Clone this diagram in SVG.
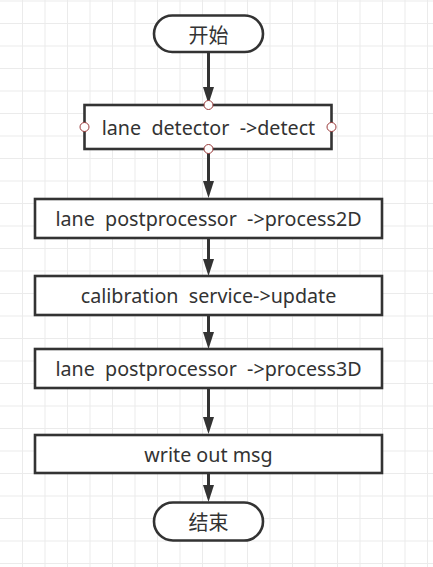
<svg xmlns="http://www.w3.org/2000/svg" width="433" height="567" viewBox="0 0 433 567">
<style>
.grid{stroke:#ebebeb;stroke-width:1;fill:none}
.box{fill:#ffffff;stroke:#333333;stroke-width:2.6}
.lbl{font-family:"Noto Sans","Noto Sans CJK SC",sans-serif;font-size:19.7px;fill:#333333;text-anchor:middle;dominant-baseline:central;white-space:pre}
.cjk{font-family:"Noto Sans CJK SC",sans-serif;font-size:20px}
.edge{stroke:#333333;stroke-width:3;fill:none}
.pt{fill:#ffffff;stroke:#9b3b3b;stroke-width:1}
</style>
<defs>
<marker id="arr" viewBox="0 -6 18 12" markerWidth="18" markerHeight="12" refX="1" refY="0" markerUnits="userSpaceOnUse" orient="auto">
<path d="M0,-5.5 L17,0 L0,5.5 z" fill="#333333"/>
</marker>
</defs>
<rect width="433" height="567" fill="#ffffff"/>
<path class="grid" d="M22.5,0V567M45,0V567M67.5,0V567M90,0V567M112.5,0V567M135,0V567M157.5,0V567M180,0V567M202.5,0V567M225,0V567M247.5,0V567M270,0V567M292.5,0V567M315,0V567M337.5,0V567M360,0V567M382.5,0V567M405,0V567M427.5,0V567M0,1H433M0,23.5H433M0,46H433M0,68.5H433M0,91H433M0,113.5H433M0,136H433M0,158.5H433M0,181H433M0,203.5H433M0,226H433M0,248.5H433M0,271H433M0,293.5H433M0,316H433M0,338.5H433M0,361H433M0,383.5H433M0,406H433M0,428.5H433M0,451H433M0,473.5H433M0,496H433M0,518.5H433M0,541H433M0,563.5H433"/>
<g id="connectors">
<line class="edge" x1="208.5" y1="53" x2="208.5" y2="88" marker-end="url(#arr)"/>
<line class="edge" x1="208.5" y1="150" x2="208.5" y2="182" marker-end="url(#arr)"/>
<line class="edge" x1="208.5" y1="238" x2="208.5" y2="260" marker-end="url(#arr)"/>
<line class="edge" x1="208.5" y1="315" x2="208.5" y2="333" marker-end="url(#arr)"/>
<line class="edge" x1="208.5" y1="388" x2="208.5" y2="418" marker-end="url(#arr)"/>
<line class="edge" x1="208.5" y1="473" x2="208.5" y2="486" marker-end="url(#arr)"/>
</g>
<g id="start">
<rect class="box" x="154" y="15.5" width="109" height="36.5" rx="18.25"/>
<text class="lbl cjk" x="208.5" y="34">开始</text>
</g>
<g id="detect">
<rect class="box" x="84.5" y="105" width="247" height="44"/>
<text class="lbl" x="208.5" y="127">lane  detector  -&gt;detect</text>
<circle class="pt" cx="208.5" cy="105" r="4.5"/>
<circle class="pt" cx="208.5" cy="149" r="4.5"/>
<circle class="pt" cx="84.5" cy="127" r="4.5"/>
<circle class="pt" cx="331.5" cy="127" r="4.5"/>
</g>
<g id="process2d">
<rect class="box" x="35" y="199" width="347" height="39"/>
<text class="lbl" x="208.5" y="218.5">lane  postprocessor  -&gt;process2D</text>
</g>
<g id="update">
<rect class="box" x="35" y="276" width="347" height="39"/>
<text class="lbl" x="208.5" y="295.5">calibration  service-&gt;update</text>
</g>
<g id="process3d">
<rect class="box" x="35" y="349" width="347" height="39"/>
<text class="lbl" x="208.5" y="368.5">lane  postprocessor  -&gt;process3D</text>
</g>
<g id="write">
<rect class="box" x="35" y="435" width="347" height="38"/>
<text class="lbl" x="208.5" y="454">write out msg</text>
</g>
<g id="end">
<rect class="box" x="154" y="502.5" width="109" height="38" rx="19"/>
<text class="lbl cjk" x="208.5" y="521.5">结束</text>
</g>
</svg>
